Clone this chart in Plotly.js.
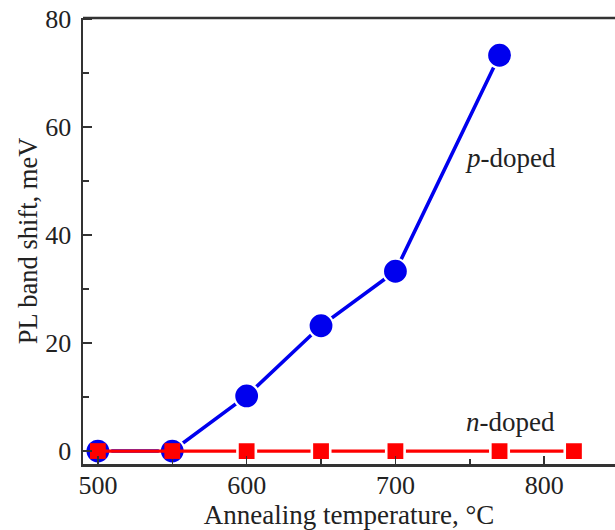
<!DOCTYPE html>
<html>
<head>
<meta charset="utf-8">
<script src="https://cdn.plot.ly/plotly-3.0.1.min.js"></script>
<style>html,body{margin:0;padding:0;background:#fff;}#chart{width:615px;height:530px;}</style>
</head>
<body>
<div id="chart"></div>
<script>
// Data
const pTemps = [500, 550, 600, 650, 700, 770];
const pShift = [0, 0, 10.2, 23.2, 33.3, 73.3];
const nTemps = [500, 550, 600, 650, 700, 770, 820];
const nShift = [0, 0, 0, 0, 0, 0, 0];
const xTicks = [500, 600, 700, 800];
const yTicks = [0, 20, 40, 60, 80];

const serif = "Liberation Serif, Times New Roman, serif";
const axisColor = "#333333";
const textColor = "#222222";
const blue = "#0000ee", red = "#ff0000";

// squares sitting on a p-doped circle get no white ring
const onCircle = nTemps.map((t, i) => {
  const j = pTemps.indexOf(t);
  return j >= 0 && pShift[j] === nShift[i];
});

const traces = [
  {
    x: pTemps, y: pShift, mode: "lines+markers", type: "scatter",
    line: {color: blue, width: 3.6},
    marker: {symbol: "circle", size: 25, color: blue, opacity: 1, line: {color: "#ffffff", width: 2.2}},
    cliponaxis: false, hoverinfo: "skip"
  },
  {
    x: nTemps, y: nShift, mode: "lines+markers", type: "scatter",
    line: {color: red, width: 3.2},
    marker: {
      symbol: "square", color: red, opacity: 1,
      size: onCircle.map(o => o ? 15.8 : 18.4),
      line: {color: "#ffffff", width: onCircle.map(o => o ? 0 : 2.6)}
    },
    cliponaxis: false, hoverinfo: "skip"
  }
];

const layout = {
  width: 615, height: 530,
  margin: {l: 83, r: 0, t: 18, b: 66},
  paper_bgcolor: "#ffffff", plot_bgcolor: "#ffffff",
  showlegend: false,
  font: {family: serif, color: textColor, size: 26},
  xaxis: {
    range: [490, 847.6],
    tickvals: xTicks, ticktext: xTicks.map(String),
    ticks: "inside", ticklen: 8, tickwidth: 1.5, tickcolor: axisColor,
    minor: {dtick: 50, tick0: 500, ticks: "inside", ticklen: 5, tickwidth: 1.5, tickcolor: axisColor},
    showgrid: false, zeroline: false,
    showline: true, linecolor: axisColor, linewidth: 2.5, mirror: false,
    tickfont: {family: serif, size: 26, color: textColor},
    ticklabelstandoff: -4,
    title: {text: "Annealing temperature, °C", font: {family: serif, size: 27, color: textColor}, standoff: 0}
  },
  yaxis: {
    range: [-2.4, 80.2],
    tickvals: yTicks, ticktext: yTicks.map(String),
    ticks: "inside", ticklen: 9, tickwidth: 1.5, tickcolor: axisColor,
    minor: {dtick: 10, tick0: 0, ticks: "inside", ticklen: 6, tickwidth: 1.5, tickcolor: axisColor},
    showgrid: false, zeroline: false,
    showline: true, linecolor: axisColor, linewidth: 2.5,
    tickfont: {family: serif, size: 26, color: textColor},
    ticklabelstandoff: 4,
    title: {text: "PL band shift, meV", font: {family: serif, size: 26.5, color: textColor}, standoff: 0}
  },
  shapes: [
    {type: "line", xref: "paper", yref: "paper", x0: 0, x1: 1, y0: 1, y1: 1, line: {color: axisColor, width: 2.5}}
  ],
  annotations: [
    {x: 777.6, y: 54.3, xref: "x", yref: "y", text: "<i>p</i>-doped", showarrow: false,
     font: {family: serif, size: 27, color: textColor}},
    {x: 777.6, y: 5.3, xref: "x", yref: "y", text: "<i>n</i>-doped", showarrow: false,
     font: {family: serif, size: 27, color: textColor}}
  ]
};

Plotly.newPlot("chart", traces, layout, {displayModeBar: false, staticPlot: true});
</script>
</body>
</html>
